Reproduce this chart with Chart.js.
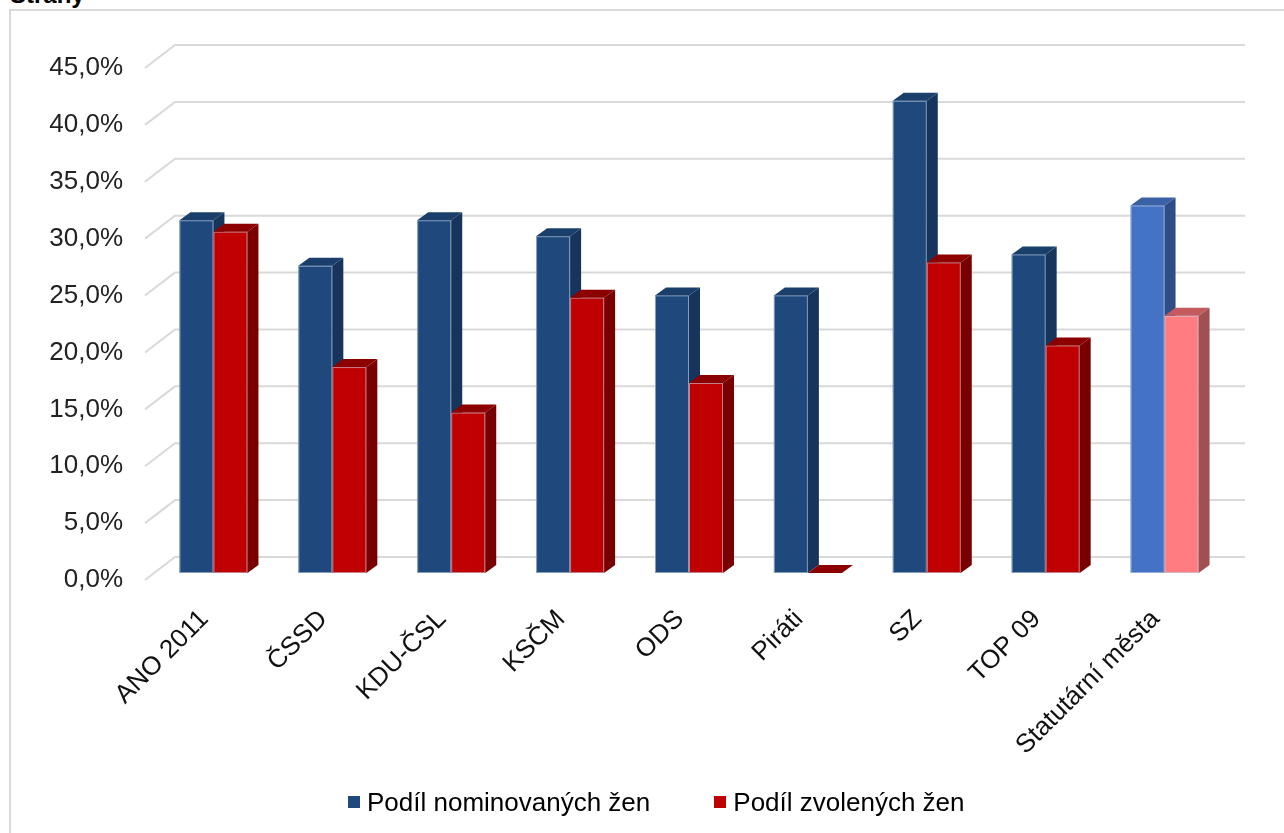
<!DOCTYPE html>
<html>
<head>
<meta charset="utf-8">
<script src="https://cdn.jsdelivr.net/npm/chart.js@4.4.0/dist/chart.umd.min.js"></script>
<style>
  body{margin:0;background:#fff;font-family:"Liberation Sans",Arial,sans-serif;}
  .wrap{position:relative;width:1284px;height:833px;overflow:hidden;}
  .frame{position:absolute;left:9px;top:9px;width:1400px;height:1000px;border:2px solid #d9d9d9;}
  .title{position:absolute;left:10px;top:-17px;font-weight:bold;font-size:24px;line-height:24px;color:#000;}
  #chart{position:absolute;left:0;top:0;}
  .legend{position:absolute;left:348px;top:786px;display:flex;font-size:26px;line-height:32px;color:#000;}
  .legend .item{display:flex;align-items:center;margin-right:64px;}
  .legend .box{width:12px;height:12px;margin-right:7px;}
</style>
</head>
<body>
<div class="wrap">
  <div class="frame"></div>
  <div class="title">Strany</div>
  <canvas id="chart" width="1284" height="833"></canvas>
  <div class="legend" id="legend"></div>
</div>
<script>
// data
const categories = ['ANO 2011', 'ČSSD', 'KDU-ČSL', 'KSČM', 'ODS', 'Piráti', 'SZ', 'TOP 09', 'Statutární města']
const nominated = [31.0, 27.0, 31.0, 29.6, 24.4, 24.4, 41.5, 28.0, 32.3]
const elected = [30.0, 18.1, 14.1, 24.2, 16.7, 0.0, 27.3, 20.0, 22.6]
const seriesNames = ['Podíl nominovaných žen', 'Podíl zvolených žen']
const yMin = 0
const yMax = 45
const yStep = 5

const font = '"Liberation Sans", Arial, sans-serif'
const last = categories.length - 1

// barvy: přední stěna, bok, vršek (poslední sloupec jiný odstín)
const pick = (a, b) => categories.map((c, i) => i === last ? b : a)
const blue = {front: pick('#1F497D', '#4472C4'), side: pick('#17355C', '#2E4D86'), top: pick('#1B3F6B', '#3A60A6')}
const red = {front: pick('#C00000', '#FF7C80'), side: pick('#780000', '#A05052'), top: pick('#8C0000', '#C25A5E')}

// 3D posuny
const wall = {dx: 30, dy: -23}
const shift = {dx: 9, dy: -7}
const depth = {dx: 11, dy: -8}

const poly = (ctx, pts, color) => {
  ctx.fillStyle = color
  ctx.beginPath()
  ctx.moveTo(pts[0][0], pts[0][1])
  for (let i = 1; i < pts.length; i++) ctx.lineTo(pts[i][0], pts[i][1])
  ctx.closePath()
  ctx.fill()
}

const bars3d = {
  id: 'bars3d',
  beforeDatasetsDraw(chart) {
    const ctx = chart.ctx
    const a = chart.chartArea
    const y = chart.scales.y
    ctx.save()
    // mřížka na zadní stěně
    ctx.strokeStyle = '#d9d9d9'
    ctx.lineWidth = 2
    y.ticks.forEach(t => {
      const py = y.getPixelForValue(t.value)
      ctx.beginPath()
      ctx.moveTo(a.left, py)
      ctx.lineTo(a.left + wall.dx, py + wall.dy)
      ctx.lineTo(a.right + wall.dx, py + wall.dy)
      ctx.stroke()
    })
    // sloupce
    chart.data.datasets.forEach((ds, di) => {
      const meta = chart.getDatasetMeta(di)
      meta.data.forEach((bar, i) => {
        const p = bar.getProps(['x', 'y', 'base', 'width'], true)
        const l = p.x - p.width / 2 + shift.dx
        const r = p.x + p.width / 2 + shift.dx
        const t = Math.min(p.y, p.base) + shift.dy
        const b = Math.max(p.y, p.base) + shift.dy
        poly(ctx, [[l, t], [r, t], [r, b], [l, b]], ds.backgroundColor[i])
        ctx.strokeStyle = 'rgba(200,212,232,0.6)'
        ctx.lineWidth = 1
        if (b - t > 1) ctx.strokeRect(l + 0.5, t + 0.5, r - l - 1, b - t - 1)
        poly(ctx, [[r, t], [r + depth.dx, t + depth.dy], [r + depth.dx, b + depth.dy], [r, b]], ds.sideColor[i])
        poly(ctx, [[l, t], [l + depth.dx, t + depth.dy], [r + depth.dx, t + depth.dy], [r, t]], ds.topColor[i])
      })
    })
    ctx.restore()
    return false
  }
}

const ctx = document.getElementById('chart').getContext('2d')
const myChart = new Chart(ctx, {
  type: 'bar',
  data: {
    labels: categories,
    datasets: [
      {label: seriesNames[0], data: nominated, backgroundColor: blue.front, sideColor: blue.side, topColor: blue.top},
      {label: seriesNames[1], data: elected, backgroundColor: red.front, sideColor: red.side, topColor: red.top}
    ]
  },
  options: {
    responsive: false,
    animation: false,
    events: [],
    datasets: {bar: {categoryPercentage: 0.572, barPercentage: 1.0}},
    layout: {padding: {top: 68, right: 69, left: 0, bottom: 0}},
    plugins: {legend: {display: false}, tooltip: {enabled: false}},
    scales: {
      x: {
        grid: {display: false, drawTicks: false},
        border: {display: false},
        ticks: {
          color: '#111', font: {size: 26, family: font},
          maxRotation: 45, minRotation: 45, padding: 24, autoSkip: false
        },
        afterFit(s) { s.height = 253 }
      },
      y: {
        min: yMin, max: yMax,
        grid: {display: false, drawTicks: false},
        border: {display: false},
        ticks: {
          stepSize: yStep, padding: 22, color: '#222',
          font: {size: 26, family: font},
          callback: v => v.toFixed(1).replace('.', ',') + '%'
        },
        afterFit(s) { s.width = 145 }
      }
    }
  },
  plugins: [bars3d]
})

// legenda
const legend = document.getElementById('legend')
myChart.data.datasets.forEach(ds => {
  const item = document.createElement('div')
  item.className = 'item'
  item.innerHTML = `<span class="box" style="background:${ds.backgroundColor[0]}"></span><span>${ds.label}</span>`
  legend.appendChild(item)
})
</script>
</body>
</html>
